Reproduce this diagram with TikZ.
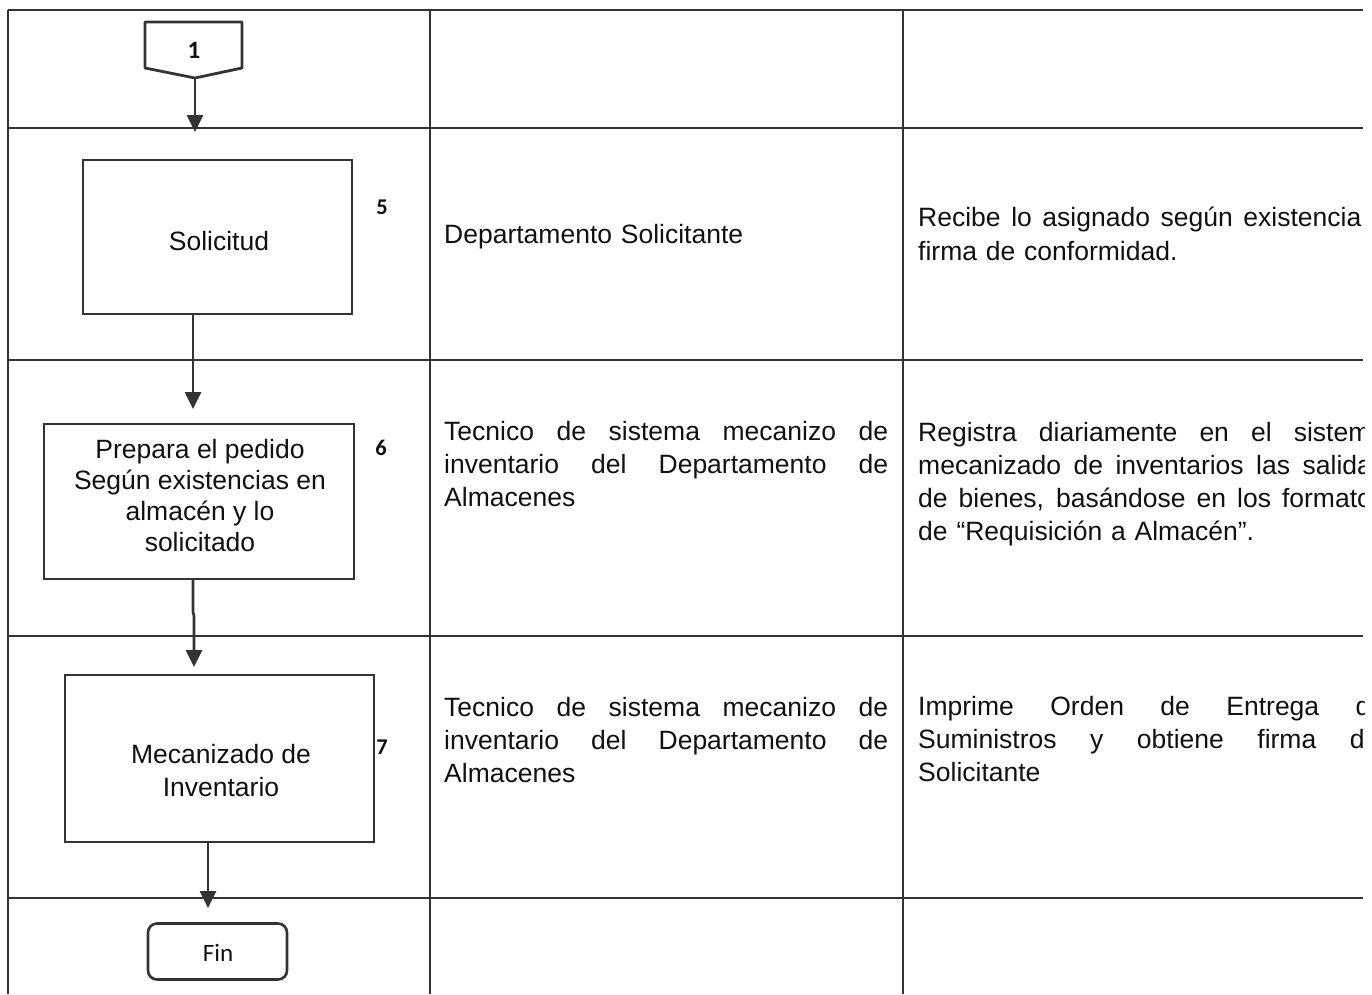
\documentclass[tikz,border=0pt]{standalone}
\usepackage{fontspec}
\setmainfont{Liberation Sans}
\newfontfamily\calfont{Carlito}
\usetikzlibrary{arrows.meta}
\newcommand{\jline}[2]{\makebox[#1][s]{\spaceskip=\fontdimen2\font plus 1fil\xspaceskip=\spaceskip #2}}
\definecolor{ln}{HTML}{333333}
\definecolor{tx}{HTML}{111111}
\begin{document}
\begin{tikzpicture}[x=1pt,y=-1pt,
  gridline/.style={line width=2pt,draw=ln},
  box/.style={draw=ln,line width=2.6pt,inner sep=0pt},
  boxtxt/.style={inner sep=0pt,align=center,text=tx,font=\fontsize{26.5}{31}\selectfont},
  arr/.style={line width=2.6pt,draw=ln,-{Triangle[length=17pt,width=16pt]}},
  txt/.style={anchor=base west,inner sep=0pt,align=left,text=tx,text width=470pt,font=\fontsize{26.5}{33}\selectfont},
  num/.style={inner sep=0pt,text=tx,font=\calfont\bfseries\fontsize{22.5}{24}\selectfont},
]
\useasboundingbox (0,0) rectangle (1372,994);
\fill[white] (0,0) rectangle (1372,994);

% table grid
\draw[gridline] (8,10) -- (1363,10);
\draw[gridline] (8,128) -- (1363,128);
\draw[gridline] (8,360) -- (1363,360);
\draw[gridline] (8,636) -- (1363,636);
\draw[gridline] (8,898) -- (1363,898);
\draw[gridline] (8,10) -- (8,994);
\draw[gridline] (430,10) -- (430,994);
\draw[gridline] (903,10) -- (903,994);

% off-page connector
\draw[ln,line width=2.8pt,line join=round] (145,22) -- (242,22) -- (242,68) -- (195,78) -- (145,68) -- cycle;
\node[inner sep=0pt,text=tx,font=\calfont\bfseries\fontsize{25}{26}\selectfont] (c1) at (194,50) {1};
\coordinate (c1tip) at (195,78);
\coordinate (e1) at (195,132);

% process boxes
\node[box,minimum width=269pt,minimum height=154pt] (sol) at (217.5,237) {};
\node[boxtxt] (soltxt) at (219,241) {Solicitud};
\node[box,minimum width=310pt,minimum height=155pt] (prep) at (199,501.5) {};
\node[boxtxt] (preptxt) at (200,496) {Prepara el pedido\\Según existencias en\\almacén y lo\\solicitado};
\node[box,minimum width=309pt,minimum height=167pt] (mec) at (219.5,758.5) {};
\node[boxtxt,font=\fontsize{26.5}{33}\selectfont] (mectxt) at (221,771) {Mecanizado de\\Inventario};
\node[box,rounded corners=9pt,minimum width=139pt,minimum height=56pt] (fin) at (217.5,951.5) {};
\node[inner sep=0pt,text=tx,font=\calfont\fontsize{25}{26}\selectfont] (fintxt) at (218,953) {Fin};

% step numbers
\node[num] (n5) at (382,207) {5};
\node[num] (n6) at (381,448) {6};
\node[num] (n7) at (382,747) {7};

% connectors
\coordinate (s2) at (193,313);
\coordinate (e2) at (193,409);
\coordinate (s3) at (193,579);
\coordinate (e3) at (194,667);
\coordinate (s4) at (208,842);
\coordinate (e4) at (208,908);
\draw[arr] (c1tip) -- (e1);
\draw[arr] (s2) -- (e2);
\draw[arr] (s3) -- (193,612) -- (194,616) -- (e3);
\draw[arr] (s4) -- (e4);

% middle column
\node[txt] (r1c2) at (444,243) {Departamento Solicitante};
\node[txt] (r2c2) at (444,440) {\jline{444pt}{Tecnico de sistema mecanizo de}\\\jline{444pt}{inventario del Departamento de}\\Almacenes};
\node[txt] (r3c2) at (444,716) {\jline{444pt}{Tecnico de sistema mecanizo de}\\\jline{444pt}{inventario del Departamento de}\\Almacenes};

% right column (cut at the page edge)
\begin{scope}
\clip (904,11) rectangle (1364,994);
\node[txt,font=\fontsize{26.5}{34}\selectfont] (r1c3) at (918,226) {\jline{467pt}{Recibe lo asignado según existencia y}\\firma de conformidad.};
\node[txt] (r2c3) at (918,441) {\jline{467pt}{Registra diariamente en el sistema}\\\jline{467pt}{mecanizado de inventarios las salidas}\\\jline{467pt}{de bienes, basándose en los formatos}\\de “Requisición a Almacén”.};
\node[txt] (r3c3) at (918,715) {\jline{467pt}{Imprime Orden de Entrega de}\\\jline{467pt}{Suministros y obtiene firma del}\\Solicitante};
\end{scope}
\end{tikzpicture}
\end{document}
